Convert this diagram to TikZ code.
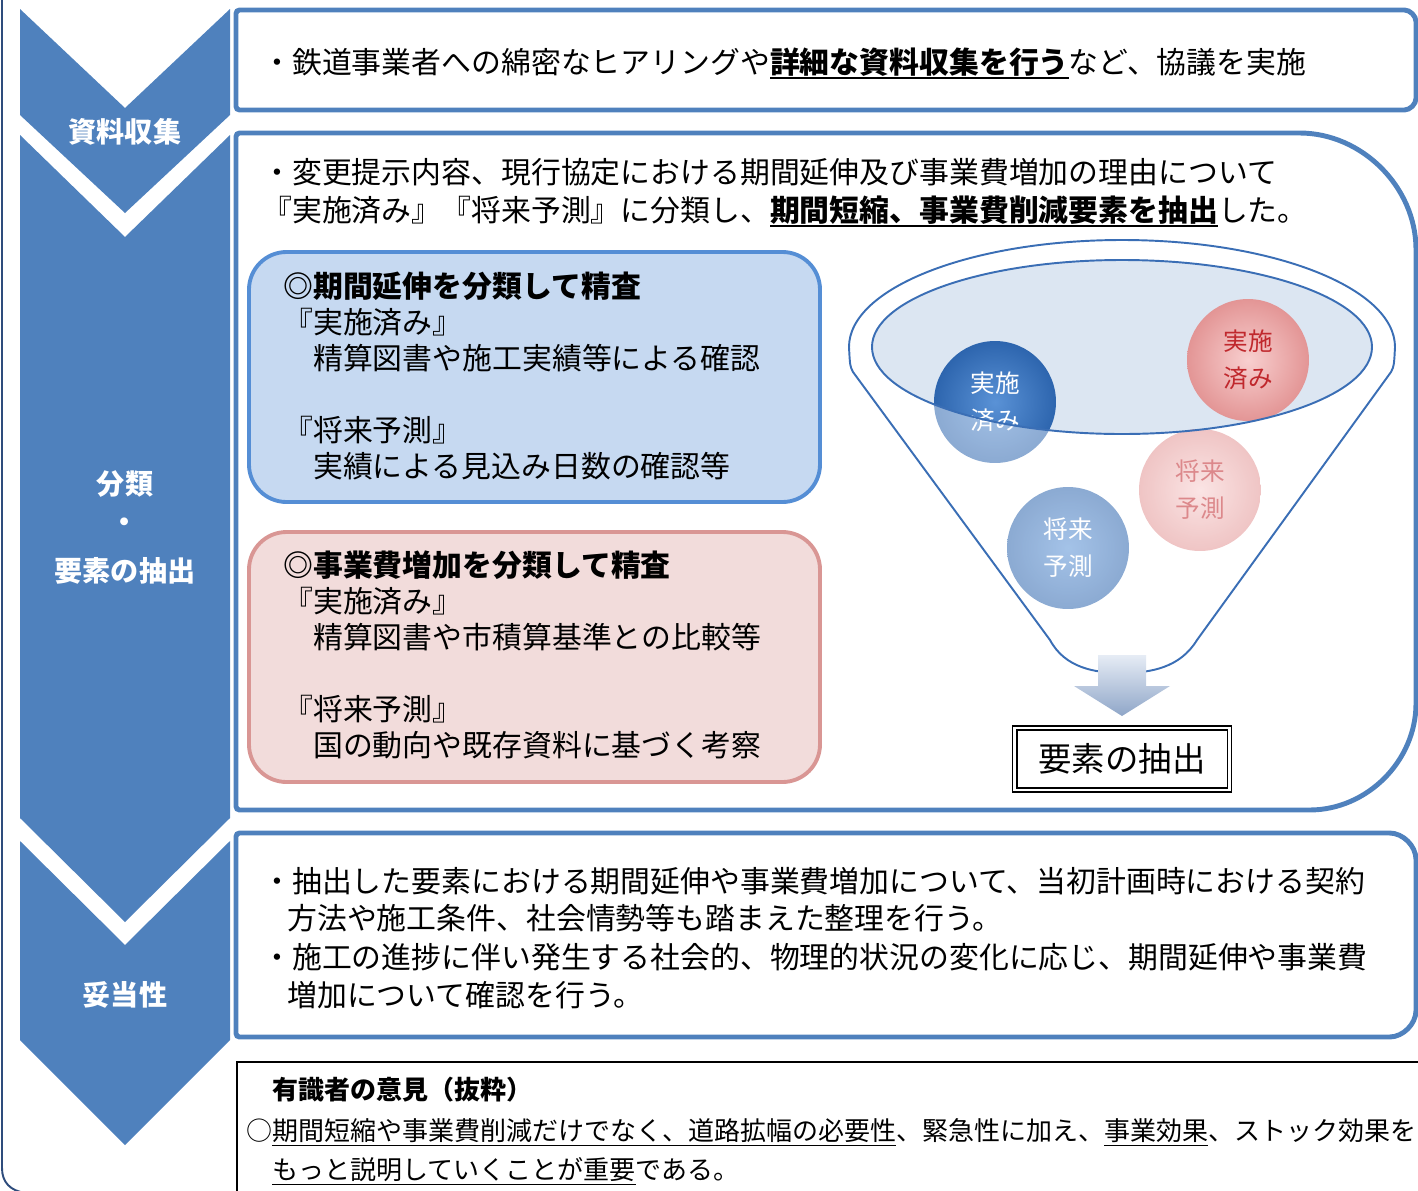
\documentclass[tikz,border=0pt]{standalone}
\usepackage{fontspec}
\setmainfont{Noto Sans CJK JP}
\usepackage{xcolor}
\usepackage{tikz}
\usetikzlibrary{positioning,calc}
\definecolor{chev}{HTML}{4F81BD}
\definecolor{frame}{HTML}{4F81BD}
\definecolor{edge}{HTML}{2E4C7C}
\definecolor{bluefill}{HTML}{C6D9F1}
\definecolor{blueline}{HTML}{558ED5}
\definecolor{pinkfill}{HTML}{F2DCDB}
\definecolor{pinkline}{HTML}{D99694}
\definecolor{funnel}{HTML}{3A6EB5}
\definecolor{lens}{HTML}{DCE6F2}
\definecolor{ballred}{HTML}{C0282D}
\definecolor{bluein}{HTML}{5A92D6}
\definecolor{blueout}{HTML}{2D65AE}
\definecolor{pinkin}{HTML}{F8CFCF}
\definecolor{pinkout}{HTML}{E39595}
\definecolor{arrowtop}{HTML}{E6ECF5}
\definecolor{arrowbot}{HTML}{8FA6C8}

% underline that sits a little below the glyphs
\newcommand{\undl}[2][1.1pt]{\setbox0=\hbox{#2}\rlap{\smash{\rule[-3pt]{\wd0}{#1}}}\box0}
\newcommand{\bodysize}{\fontsize{17}{20}\selectfont}

\begin{document}
\begin{tikzpicture}[
  x=0.02cm, y=-0.02cm,
  every node/.style={inner sep=0pt},
  chevron/.style={fill=chev},
  tag/.style={text=white, font=\fontsize{16}{19}\selectfont\bfseries},
  panel/.style={draw=frame, line width=2.8pt, rounded corners=2pt},
  card/.style={line width=2.2pt, rounded corners=0.75cm},
  memo/.style={anchor=west, font=\bodysize, text height=15pt, text depth=2pt},
  remark/.style={anchor=west, font=\fontsize{14.8}{17}\selectfont, text height=13pt, text depth=1.8pt},
  ball/.style={circle, minimum size=2.44cm, shading=radial, align=center,
    font=\fontsize{14}{21}\selectfont},
  blueball/.style={ball, inner color=bluein, outer color=blueout, text=white},
  pinkball/.style={ball, inner color=pinkin, outer color=pinkout, text=ballred},
  funnelline/.style={draw=funnel, line width=1.1pt},
  resbox/.style={draw=black, line width=0.9pt, double=white, double distance=1.6pt,
    minimum width=4.3cm, minimum height=1.24cm, font=\fontsize{19}{22}\selectfont},
]
\useasboundingbox (0,0) rectangle (1418,1191);
\clip (0,0) rectangle (1418,1191);

% left frame edge
\draw[edge, line width=1.1pt] (2,-5) -- (2,1168) .. controls (2,1182) and (10,1191) .. (26,1193);

% chevrons down the left side
\fill[chevron] (20,9) -- (125,108) -- (230,9) -- (230,115) -- (125,213) -- (20,115) -- cycle;
\fill[chevron] (20,135) -- (125,237) -- (230,135) -- (230,818) -- (125,922) -- (20,818) -- cycle;
\fill[chevron] (20,841) -- (125,945) -- (230,841) -- (230,1040) -- (125,1145) -- (20,1040) -- cycle;
\node[tag] (tagA)  at (125,132) {資料収集};
\node[tag] (tagB1) at (125,484) {分類};
\node[tag] (tagB2) at (125,525) {・};
\node[tag] (tagB3) at (125,571) {要素の抽出};
\node[tag] (tagC)  at (125,995) {妥当性};

% step 1
\draw[panel] (236,10) -- (1401,10) .. controls (1410,10) and (1416,16) .. (1416,25)
  -- (1416,95) .. controls (1416,104) and (1410,110) .. (1401,110) -- (236,110) -- cycle;
\node[memo] (s1) at (262,62) {・鉄道事業者への綿密なヒアリングや\undl{\bfseries 詳細な資料収集を行う}など、協議を実施};

% step 2
\draw[panel] (236,133) -- (1296,133) .. controls (1362,133) and (1416,187) .. (1416,253)
  -- (1416,700) .. controls (1416,761) and (1367,810) .. (1306,810) -- (236,810) -- cycle;
\node[memo] (s2a) at (262,172) {・変更提示内容、現行協定における期間延伸及び事業費増加の理由について};
\node[memo] (s2b) at (262,210) {『実施済み』『将来予測』に分類し、\undl{\bfseries 期間短縮、事業費削減要素を抽出}した。};

\draw[card, draw=blueline, fill=bluefill] (249,252) rectangle (820,502);
\node[memo] (pA0) at (283,286) {\bfseries ◎期間延伸を分類して精査};
\node[memo] (pA1) at (283,322) {『実施済み』};
\node[memo] (pA2) at (283,358) {　精算図書や施工実績等による確認};
\node[memo] (pA3) at (283,430) {『将来予測』};
\node[memo] (pA4) at (283,466) {　実績による見込み日数の確認等};

\draw[card, draw=pinkline, fill=pinkfill] (249,532) rectangle (820,782);
\node[memo] (pB0) at (283,565) {\bfseries ◎事業費増加を分類して精査};
\node[memo] (pB1) at (283,601) {『実施済み』};
\node[memo] (pB2) at (283,637) {　精算図書や市積算基準との比較等};
\node[memo] (pB3) at (283,709) {『将来予測』};
\node[memo] (pB4) at (283,745) {　国の動向や既存資料に基づく考察};

% funnel with the sorted items
\fill[lens] (1122,347) ellipse [x radius=250, y radius=87];
\node[blueball] (doneA) at (995,402)  {実施\\済み};
\node[pinkball] (doneB) at (1248,360) {実施\\済み};
\node[pinkball] (nextB) at (1200,490) {将来\\予測};
\node[blueball] (nextA) at (1068,548) {将来\\予測};
\fill[white, fill opacity=0.45, even odd rule]
  (1050,640) -- (853,372) .. controls (850,366) .. (849,347)
  arc [start angle=180, end angle=360, x radius=273, y radius=107]
  .. controls (1394,366) .. (1391,372) -- (1197,640)
  .. controls (1180,668) and (1150,673) .. (1122,673)
  .. controls (1095,673) and (1065,668) .. (1050,640) -- cycle
  (1122,347) ellipse [x radius=250, y radius=87];
\draw[funnelline]
  (1050,640) -- (853,372) .. controls (850,366) .. (849,347)
  arc [start angle=180, end angle=360, x radius=273, y radius=107]
  .. controls (1394,366) .. (1391,372) -- (1197,640)
  .. controls (1180,668) and (1150,673) .. (1122,673)
  .. controls (1095,673) and (1065,668) .. (1050,640) -- cycle;
\draw[funnelline] (1122,347) ellipse [x radius=250, y radius=87];

\shade[top color=arrowtop, bottom color=arrowbot]
  (1098,655) -- (1146,655) -- (1146,686) -- (1170,686) -- (1122,716)
  -- (1074,686) -- (1098,686) -- cycle;
\node[resbox] (result) at (1122,759) {要素の抽出};

% step 3
\draw[panel] (236,833) -- (1386,833) .. controls (1403,833) and (1416,846) .. (1416,863)
  -- (1416,1007) .. controls (1416,1024) and (1403,1037) .. (1386,1037) -- (236,1037) -- cycle;
\node[memo] (s3a) at (262,881) {・抽出した要素における期間延伸や事業費増加について、当初計画時における契約};
\node[memo] (s3b) at (287,918) {方法や施工条件、社会情勢等も踏まえた整理を行う。};
\node[memo] (s3c) at (262,957) {・施工の進捗に伴い発生する社会的、物理的状況の変化に応じ、期間延伸や事業費};
\node[memo] (s3d) at (287,995) {増加について確認を行う。};

% expert remarks
\draw[line width=0.9pt] (237,1210) -- (237,1062) -- (1440,1062);
\node[remark] (rk0) at (272,1090) {\bfseries 有識者の意見（抜粋）};
\node[remark] (rk1) at (246,1131) {○\undl[0.8pt]{期間短縮や事業費削減だけでなく、道路拡幅の必要性}、緊急性に加え、\undl[0.8pt]{事業効果}、ストック効果を};
\node[remark] (rk2) at (272,1170) {\undl[0.8pt]{もっと説明していくことが重要}である。};
\end{tikzpicture}
\end{document}
